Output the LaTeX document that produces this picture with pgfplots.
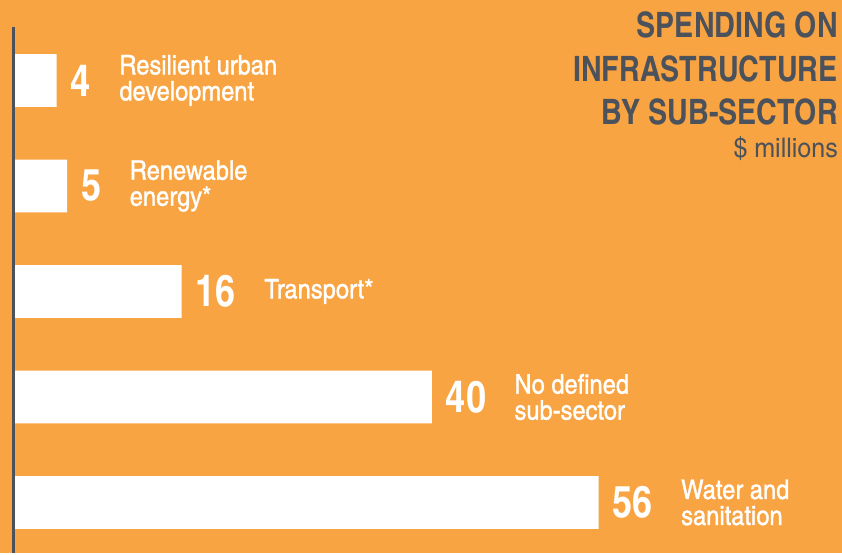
\documentclass[border=0pt]{standalone}
\usepackage{pgfplots}
\pgfplotsset{compat=1.18}
\usepackage{fontspec}
\setmainfont{TeX Gyre Heros Cn}
\newfontfamily\labfont{TeX Gyre Heros Cn}[FakeBold=1.2, FakeStretch=1.07]
\newfontfamily\unitfont{TeX Gyre Heros Cn}[FakeStretch=1.13]
\definecolor{bgorange}{HTML}{F9A443}
\definecolor{dkgray}{HTML}{4B525B}
\begin{document}
\begin{tikzpicture}
\fill[bgorange] (0,0) rectangle (842pt,553pt);
\begin{axis}[at={(15pt,0pt)}, anchor=south west, scale only axis,
  width=827pt, height=553pt, xmin=0, xmax=79.37,
  ymin=-0.763, ymax=4.479, y dir=reverse, hide axis, clip=false,
  xbar, bar width=0.5]
\draw[dkgray, line width=2.5pt] (axis cs:-0.14,-0.507) -- (axis cs:-0.14,4.479);
\addplot[fill=white, draw=none] coordinates {(4,0) (5,1) (16,2) (40,3) (56,4)};
\tikzset{val/.style={anchor=west, inner sep=0pt, text=white, font=\bfseries\fontsize{44}{44}\selectfont, xshift=14pt},
         lab/.style={anchor=west, inner sep=0pt, text=white, align=left, font=\labfont\fontsize{27}{26}\selectfont, xshift=28pt}}
\node[val] (v0) at (axis cs:4,0) {4};
\node[lab] at (v0.east) {Resilient urban\\development};
\node[val] (v1) at (axis cs:5,1) {5};
\node[lab] at (v1.east) {Renewable\\energy*};
\node[val] (v2) at (axis cs:16,2) {16};
\node[lab] at (v2.east) {Transport*};
\node[val] (v3) at (axis cs:40,3) {40};
\node[lab] at (v3.east) {No defined\\sub-sector};
\node[val] (v4) at (axis cs:56,4) {56};
\node[lab] at (v4.east) {Water and\\sanitation};
\end{axis}
\begin{scope}[every node/.style={anchor=base east, inner sep=0pt, text=dkgray}]
\node[font=\bfseries\fontsize{35}{35}\selectfont] at (838pt,515pt) {SPENDING ON};
\node[font=\bfseries\fontsize{35}{35}\selectfont] at (838pt,471pt) {INFRASTRUCTURE};
\node[font=\bfseries\fontsize{35}{35}\selectfont] at (838pt,428pt) {BY SUB-SECTOR};
\node[font=\unitfont\fontsize{27}{27}\selectfont] at (838pt,395pt) {\$ millions};
\end{scope}
\end{tikzpicture}
\end{document}
